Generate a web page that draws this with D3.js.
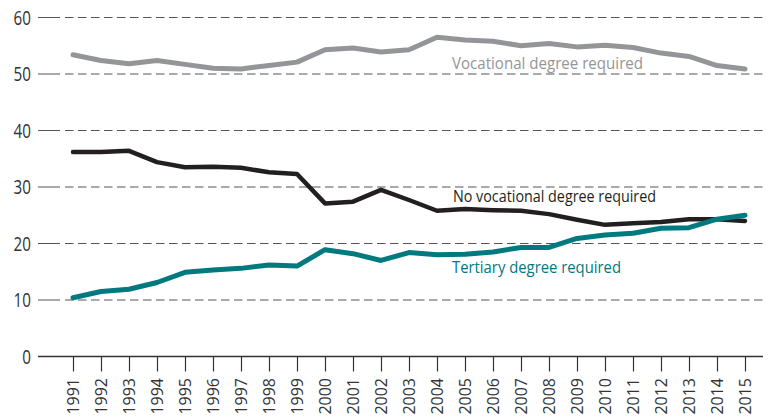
<!DOCTYPE html>
<html>
<head>
<meta charset="utf-8">
<script src="https://cdn.jsdelivr.net/npm/d3@7"></script>
<style>
  body { margin: 0; background: #fff; }
  text { font-family: "Open Sans", "Noto Sans", sans-serif; }
</style>
</head>
<body>
<div id="chart"></div>
<script>
// values
var years = [1991,1992,1993,1994,1995,1996,1997,1998,1999,2000,2001,2002,2003,
             2004,2005,2006,2007,2008,2009,2010,2011,2012,2013,2014,2015];
var vocational = [53.4,52.4,51.8,52.4,51.7,51.0,50.9,51.5,52.1,54.3,54.6,53.9,54.3,
                  56.5,56.0,55.8,55.0,55.4,54.8,55.1,54.7,53.7,53.1,51.5,50.9];
var noVocational = [36.2,36.2,36.4,34.4,33.5,33.6,33.4,32.6,32.3,27.1,27.4,29.5,27.7,
                    25.8,26.1,25.9,25.8,25.2,24.2,23.3,23.6,23.8,24.3,24.3,24.0];
var tertiary = [10.4,11.5,11.9,13.1,14.9,15.3,15.6,16.2,16.0,18.9,18.2,17.0,18.4,
                18.0,18.1,18.5,19.3,19.3,20.9,21.5,21.8,22.7,22.8,24.3,25.0];
var yTicks = [0,10,20,30,40,50,60];

var series = [
  {name: "Vocational degree required", values: vocational, color: "#939598", width: 5,
   label: {x: 452, y: 69, w: 191}},
  {name: "No vocational degree required", values: noVocational, color: "#231f20", width: 4.5,
   label: {x: 453, y: 202, w: 203}},
  {name: "Tertiary degree required", values: tertiary, color: "#00797f", width: 5,
   label: {x: 452, y: 273, w: 169}}
];

var W = 770, H = 417;
var left = 38, right = 763;

var svg = d3.select("#chart").append("svg")
    .attr("width", W)
    .attr("height", H);

var x = d3.scaleLinear().domain([1991, 2015]).range([73, 745]);
var y = d3.scaleLinear().domain([0, 60]).range([356.5, 17.5]);

// grid lines: short solid bit then dashes
var grid = svg.append("g");
yTicks.filter(function(d){ return d > 0; }).forEach(function(t){
  grid.append("line")
      .attr("x1", left).attr("x2", 60)
      .attr("y1", y(t)).attr("y2", y(t))
      .attr("stroke", "#555").attr("stroke-width", 1);
  grid.append("line")
      .attr("x1", 65).attr("x2", right)
      .attr("y1", y(t)).attr("y2", y(t))
      .attr("stroke", "#555").attr("stroke-width", 1)
      .attr("stroke-dasharray", "8.5,4.5");
});

// y labels (narrow looking, so squeeze them a bit)
svg.append("g").selectAll("text")
  .data(yTicks)
  .enter().append("text")
    .attr("transform", function(d){ return "translate(31," + y(d) + ") scale(0.76,1)"; })
    .attr("dy", "0.36em")
    .attr("text-anchor", "end")
    .attr("font-size", 20)
    .attr("fill", "#333")
    .text(function(d){ return d; });

// x axis
var xAxis = svg.append("g")
    .attr("transform", "translate(0," + y(0) + ")")
    .call(d3.axisBottom(x).tickValues(years).tickFormat(d3.format("d")).tickSize(15).tickSizeOuter(0));
xAxis.select(".domain").remove();
xAxis.append("line")
    .attr("x1", left).attr("x2", right)
    .attr("stroke", "#333").attr("stroke-width", 1.5);
xAxis.selectAll(".tick line").attr("stroke", "#333").attr("stroke-width", 1.2);
xAxis.selectAll(".tick text")
    .attr("font-size", 16)
    .attr("fill", "#333")
    .attr("font-family", "Open Sans, sans-serif")
    .attr("transform", "rotate(-90)")
    .attr("text-anchor", "end")
    .attr("x", -21.5)
    .attr("y", 0)
    .attr("dy", "0.36em");

// lines
var line = d3.line()
    .x(function(d, i){ return x(years[i]); })
    .y(function(d){ return y(d); });

series.forEach(function(s){
  svg.append("path")
      .datum(s.values)
      .attr("d", line)
      .attr("fill", "none")
      .attr("stroke", s.color)
      .attr("stroke-width", s.width)
      .attr("stroke-linejoin", "round")
      .attr("stroke-linecap", "round");

  svg.append("text")
      .attr("x", s.label.x)
      .attr("y", s.label.y)
      .attr("font-size", 16)
      .attr("fill", s.color)
      .attr("textLength", s.label.w)
      .attr("lengthAdjust", "spacingAndGlyphs")
      .text(s.name);
});
</script>
</body>
</html>
